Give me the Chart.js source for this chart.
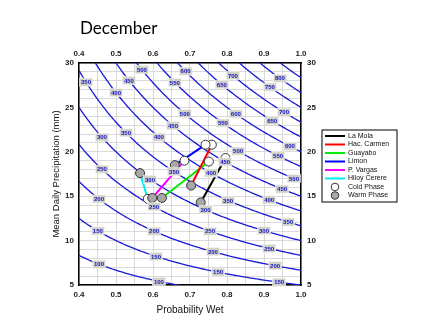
<!DOCTYPE html>
<html>
<head>
<meta charset="utf-8">
<script src="https://cdn.jsdelivr.net/npm/chart.js@4.4.1/dist/chart.umd.min.js"></script>
<style>
  html, body { margin: 0; padding: 0; background: #fff; }
</style>
</head>
<body>
<canvas id="decChart" width="445" height="335"></canvas>
<script>
// stations and their December cold / warm phase values
const stations = ["La Mola", "Hac. Carmen", "Guayabo", "Limon", "P. Vargas", "Hiloy Cerere"]
const stationColors = ["#000000", "#ff0000", "#00ee00", "#0000ff", "#ff00ff", "#00eeee"]
const coldWet = [0.796, 0.759, 0.751, 0.742, 0.685, 0.586]
const coldPrecip = [19.3, 20.8, 18.9, 20.8, 19.0, 14.7]
const warmWet = [0.729, 0.703, 0.624, 0.659, 0.598, 0.565]
const warmPrecip = [14.3, 16.2, 14.8, 18.5, 14.8, 17.6]

// monthly total isolines (mm) = days * P(wet) * mean daily precip
const days = 30
const levels = [100, 150, 200, 250, 300, 350, 400, 450, 500, 550, 600, 650, 700, 750, 800, 850]

// where each isoline gets its value tag (level, probability wet)
const levelTags = [
    [350, 0.419], [450, 0.535], [500, 0.570], [400, 0.500], [550, 0.659], [600, 0.688],
    [350, 0.527], [300, 0.462], [400, 0.616], [450, 0.654], [500, 0.686], [250, 0.462],
    [700, 0.816], [800, 0.943], [650, 0.786], [750, 0.916], [600, 0.824], [700, 0.954],
    [550, 0.789], [650, 0.922], [600, 0.970], [550, 0.938], [500, 0.830], [450, 0.795],
    [300, 0.592], [350, 0.657], [200, 0.454], [250, 0.603], [150, 0.451], [200, 0.603],
    [100, 0.454], [150, 0.608], [100, 0.616], [400, 0.757], [350, 0.803], [300, 0.742],
    [400, 0.914], [450, 0.949], [500, 0.981], [350, 0.965], [250, 0.754], [300, 0.900],
    [200, 0.762], [250, 0.914], [150, 0.776], [200, 0.930], [150, 0.941],
]

const tickFont = { family: "Liberation Sans", size: 8, weight: "bold" }
const isMajorX = (v) => Math.abs(v * 10 - Math.round(v * 10)) < 1e-6
const isMajorY = (v) => Math.abs(v / 5 - Math.round(v / 5)) < 1e-6

const isolines = levels.map((lv) => {
    const pts = []
    for (let i = 0; i <= 120; i++) {
        const p = 0.4 + i * 0.005
        pts.push({ x: p, y: lv / (days * p) })
    }
    return {
        label: String(lv),
        data: pts,
        showLine: true,
        borderColor: "#1a1ad8",
        borderWidth: 1.3,
        pointRadius: 0,
        order: 3,
    }
})

const stationLines = stations.map((name, i) => ({
    label: name,
    data: [
        { x: warmWet[i], y: warmPrecip[i] },
        { x: coldWet[i], y: coldPrecip[i] },
    ],
    showLine: true,
    borderColor: stationColors[i],
    borderWidth: 2,
    pointRadius: 0,
    order: 2,
}))

const coldSet = {
    label: "Cold Phase",
    data: coldWet.map((p, i) => ({ x: p, y: coldPrecip[i] })),
    pointRadius: 4.5,
    pointBackgroundColor: "#ffffff",
    pointBorderColor: "#333333",
    pointBorderWidth: 1,
    order: 1,
}
const warmSet = {
    label: "Warm Phase",
    data: warmWet.map((p, i) => ({ x: p, y: warmPrecip[i] })),
    pointRadius: 4.5,
    pointBackgroundColor: "#a8a8a8",
    pointBorderColor: "#333333",
    pointBorderWidth: 1,
    order: 0,
}

// isoline tags, title, axis titles and legend
const decor = {
    id: "decor",
    afterDatasetsDraw(chart) {
        const { ctx, scales } = chart
        ctx.save()
        ctx.font = "bold 6px 'Liberation Sans'"
        ctx.textAlign = "center"
        ctx.textBaseline = "middle"
        levelTags.forEach(([lv, p]) => {
            const px = scales.x.getPixelForValue(p)
            const py = scales.y.getPixelForValue(lv / (days * p))
            const w = ctx.measureText(String(lv)).width + 3
            ctx.fillStyle = "#d2d2c6"
            ctx.fillRect(px - w / 2, py - 4, w, 8)
            ctx.strokeStyle = "#f4f4f0"
            ctx.lineWidth = 0.6
            ctx.strokeRect(px - w / 2, py - 4, w, 8)
            ctx.fillStyle = "#1414c8"
            ctx.fillText(String(lv), px, py + 0.5)
        })
        ctx.restore()
    },
    afterDraw(chart) {
        const { ctx, chartArea } = chart
        ctx.save()
        ctx.fillStyle = "#000"
        ctx.font = "17px Lato"
        ctx.textBaseline = "alphabetic"
        ctx.fillText("December", 80, 34)

        ctx.fillStyle = "#111"
        ctx.font = "10px 'Liberation Sans'"
        ctx.textAlign = "center"
        ctx.textBaseline = "middle"
        ctx.fillText("Probability Wet", (chartArea.left + chartArea.right) / 2, 310)
        ctx.save()
        ctx.translate(56, (chartArea.top + chartArea.bottom) / 2)
        ctx.rotate(-Math.PI / 2)
        ctx.font = "9.5px 'Liberation Sans'"
        ctx.fillText("Mean Daily Precipitation (mm)", 0, 0)
        ctx.restore()

        // legend
        const bx = 322, by = 130, bw = 75, bh = 72
        ctx.strokeStyle = "#000"
        ctx.lineWidth = 1
        ctx.strokeRect(bx, by, bw, bh)
        ctx.font = "7px 'Liberation Sans'"
        ctx.textAlign = "left"
        const rowY = (i) => 136 + i * 8.5
        stations.forEach((name, i) => {
            ctx.strokeStyle = stationColors[i]
            ctx.lineWidth = 2
            ctx.beginPath()
            ctx.moveTo(325, rowY(i))
            ctx.lineTo(345, rowY(i))
            ctx.stroke()
            ctx.fillStyle = "#111"
            ctx.fillText(name, 348, rowY(i))
        })
        ;[coldSet, warmSet].forEach((ds, k) => {
            const y = rowY(6 + k)
            ctx.beginPath()
            ctx.arc(335, y, 3.8, 0, Math.PI * 2)
            ctx.fillStyle = ds.pointBackgroundColor
            ctx.fill()
            ctx.strokeStyle = "#333"
            ctx.lineWidth = 1
            ctx.stroke()
            ctx.fillStyle = "#111"
            ctx.fillText(ds.label, 348, y)
        })
        ctx.restore()
    },
}

const ctx = document.getElementById("decChart").getContext("2d")
new Chart(ctx, {
    type: "scatter",
    data: { datasets: [warmSet, coldSet, ...stationLines, ...isolines] },
    options: {
        responsive: false,
        animation: false,
        events: [],
        layout: { padding: 0 },
        plugins: { legend: { display: false }, tooltip: { enabled: false }, title: { display: false } },
        scales: {
            x: {
                type: "linear", position: "bottom", min: 0.4, max: 1.0,
                ticks: {
                    stepSize: 0.05, autoSkip: false, maxRotation: 0, padding: 5,
                    font: tickFont, color: "#222",
                    callback: (v) => (isMajorX(v) ? v.toFixed(1) : ""),
                },
                grid: { color: "#d0d0d0", lineWidth: 0.8, drawTicks: false },
                border: { color: "#000", width: 1.5 },
                afterFit: (s) => { s.height = 50 },
            },
            x2: {
                type: "linear", position: "top", min: 0.4, max: 1.0,
                ticks: {
                    stepSize: 0.05, autoSkip: false, maxRotation: 0, padding: 4,
                    font: tickFont, color: "#222",
                    callback: (v) => (isMajorX(v) ? v.toFixed(1) : ""),
                },
                grid: { drawOnChartArea: false, drawTicks: false },
                border: { color: "#000", width: 1.5 },
                afterFit: (s) => { s.height = 63 },
            },
            y: {
                type: "linear", position: "left", min: 5, max: 30,
                ticks: {
                    stepSize: 1, autoSkip: false, padding: 5,
                    font: tickFont, color: "#222",
                    callback: (v) => (isMajorY(v) ? String(v) : ""),
                },
                grid: { color: "#d0d0d0", lineWidth: 0.8, drawTicks: false },
                border: { color: "#000", width: 1.5 },
                afterFit: (s) => { s.width = 79 },
            },
            y2: {
                type: "linear", position: "right", min: 5, max: 30,
                ticks: {
                    stepSize: 1, autoSkip: false, padding: 6,
                    font: tickFont, color: "#222",
                    callback: (v) => (isMajorY(v) ? String(v) : ""),
                },
                grid: { drawOnChartArea: false, drawTicks: false },
                border: { color: "#000", width: 1.5 },
                afterFit: (s) => { s.width = 144 },
            },
        },
    },
    plugins: [decor],
})
</script>
</body>
</html>
